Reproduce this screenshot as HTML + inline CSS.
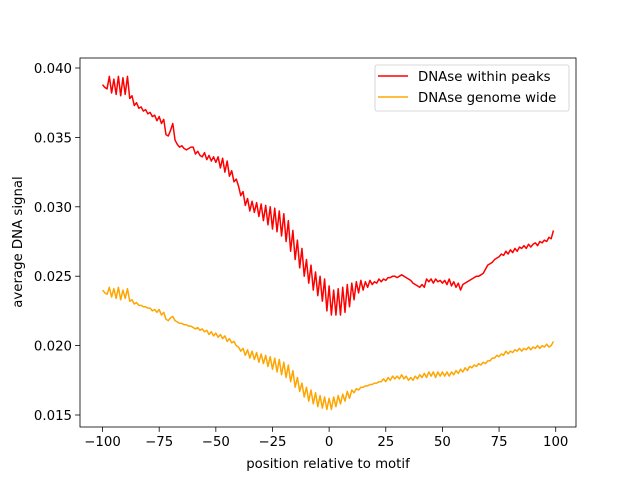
<!DOCTYPE html>
<html><head><meta charset="utf-8"><style>body{margin:0;background:#fff}svg{font-family:"DejaVu Sans","Liberation Sans",sans-serif}</style></head>
<body>
<svg id="chart" width="640" height="480" xmlns="http://www.w3.org/2000/svg">
<rect width="640" height="480" fill="#fff"/>
<g id="plot"></g>
</svg>
<script>
const positions = [];
for (let p = -100; p <= 99; p++) positions.push(p);
const peaksSignal = [388,386,385,394,382,392,381,394,380,393,381,394,378,
380,373,375,371,372,369,370,367,
368,365,366,362,365,360,363,352,351,355,
360,348,345,343,344,342,341,342,343,343,
338,340,337,336,339,334,337,333,336,332,
336,328,335,325,333,322,326,318,320,315,
308,311,301,306,297,304,296,303,293,302,
290,301,287,300,284,299,282,297,279,295,
275,290,268,283,262,276,256,270,250,262,
245,258,240,253,236,250,232,248,225,243,
222,240,222,241,222,242,224,244,228,245,
233,246,238,247,240,246,242,247,244,246,
245,248,246,248,247,249,249,250,250,249,
250,251,250,249,248,247,245,244,243,242,
244,242,248,246,248,245,248,246,247,245,
247,244,248,243,246,242,245,240,244,245,
246,247,248,249,250,250,251,252,255,258,
259,260,262,263,264,266,265,268,266,269,
267,270,268,271,270,272,270,273,271,273,
274,272,275,274,276,275,278,277,283];
const genomeSignal = [240,238,237,242,235,241,234,242,233,240,234,241,232,
233,230,231,229,229,228,228,227,
227,225,226,224,226,222,224,219,218,220,
221,218,217,216,216,215,215,214,214,213,
212,213,211,212,210,211,208,210,207,209,
206,208,205,207,203,205,202,203,200,199,
196,198,193,197,191,196,190,195,188,194,
187,193,185,192,183,191,181,190,179,188,
177,186,174,182,170,177,167,173,163,170,
160,168,158,166,156,164,155,163,154,162,
154,163,156,164,158,165,160,167,162,168,
166,169,168,170,170,171,171,172,172,173,
173,174,174,176,174,177,175,178,176,178,
176,179,176,178,175,177,175,178,176,179,
177,180,177,181,178,181,177,181,178,181,
178,181,178,181,179,182,180,183,181,184,
182,185,184,186,185,187,186,188,187,189,
189,191,191,193,192,194,193,196,194,196,
195,197,196,198,196,198,197,199,197,199,
198,200,198,200,199,201,199,200,203];
const xTicks = [-100,-75,-50,-25,0,25,50,75,100];
const yTicks = [0.015,0.020,0.025,0.030,0.035,0.040];
const yTickLabels = ["0.015","0.020","0.025","0.030","0.035","0.040"];

const L=80,R=576,T=58,B=427;
const xmin=-109.95,xmax=108.95;
const X=v=>L+(v-xmin)/(xmax-xmin)*(R-L);
const Y=v=>415-(v-0.015)*13880;
const NS="http://www.w3.org/2000/svg";
const g=document.getElementById('plot');
function mk(tag,attrs,parent){const e=document.createElementNS(NS,tag);for(const k in attrs)e.setAttribute(k,attrs[k]);(parent||g).appendChild(e);return e;}
const FS=13.3;

function series(vals,color,name){
  const d=vals.map((v,i)=>(i?'L':'M')+X(positions[i]).toFixed(2)+','+Y(v/10000).toFixed(2)).join(' ');
  const p=mk('path',{d:d,fill:'none',stroke:color,'stroke-width':1.5,'stroke-linejoin':'round'});
  
  
}
series(peaksSignal,'#ff0000','series-dnase-within-peaks');
series(genomeSignal,'#ffa500','series-dnase-genome-wide');

const frame=mk('rect',{x:L,y:T,width:R-L,height:B-T,fill:'none',stroke:'#000','stroke-width':0.8});



xTicks.forEach(t=>{
  const x=X(t);
  mk('line',{x1:x,x2:x,y1:B,y2:B+4.9,stroke:'#000','stroke-width':0.8});
  const tx=mk('text',{x:x,y:B+19,'font-size':FS,'text-anchor':'middle',fill:'#000'});
  tx.textContent=t<0?'\u2212'+(-t):String(t);
  
  
});
yTicks.forEach((t,i)=>{
  const y=Y(t);
  mk('line',{x1:L-4.9,x2:L,y1:y,y2:y,stroke:'#000','stroke-width':0.8});
  const tx=mk('text',{x:L-8,y:y+5,'font-size':FS,'text-anchor':'end',fill:'#000'});
  tx.textContent=yTickLabels[i];
  
  
});
const xl=mk('text',{x:(L+R)/2,y:468,'font-size':FS,'text-anchor':'middle',fill:'#000'});
xl.textContent='position relative to motif';


const yl=mk('text',{x:0,y:0,'font-size':FS,'text-anchor':'middle',fill:'#000',transform:'translate(22,242) rotate(-90)'});
yl.textContent='average DNA signal';



const lg=mk('g',{});


mk('rect',{x:375,y:65,width:194,height:46,rx:2,fill:'#fff',stroke:'#ccc','stroke-width':0.8},lg);
[['DNAse within peaks','#ff0000',76],['DNAse genome wide','#ffa500',97]].forEach(([lab,c,y])=>{
  mk('line',{x1:378,x2:408,y1:y,y2:y,stroke:c,'stroke-width':1.5},lg);
  const t=mk('text',{x:418,y:y+5,'font-size':FS,fill:'#000'},lg);
  t.textContent=lab;
  
  
});
</script>
</body></html>
